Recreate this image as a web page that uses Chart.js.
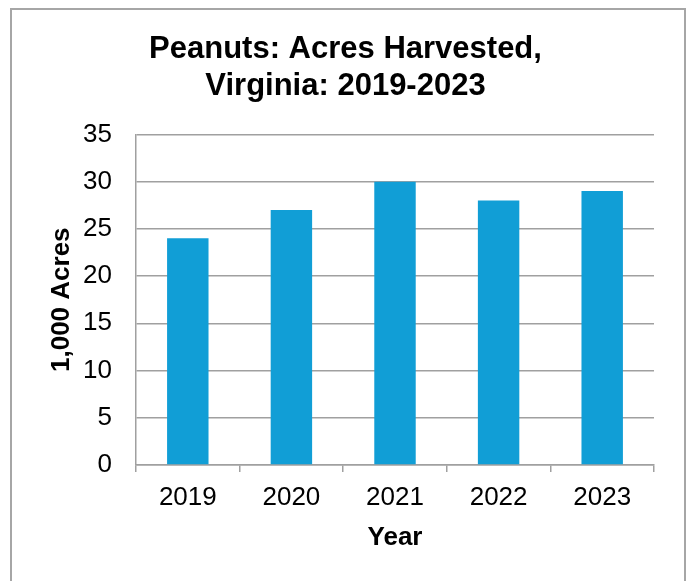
<!DOCTYPE html>
<html>
<head>
<meta charset="utf-8">
<script src="https://cdn.jsdelivr.net/npm/chart.js@4"></script>
<style>
    html, body { margin: 0; padding: 0; background: #fff; }
    body { width: 691px; height: 581px; position: relative; overflow: hidden; }
    .frame {
        position: absolute; left: 10px; top: 8px; width: 672px; height: 590px;
        border: 2px solid #a6a6a6;
    }
    #chart { position: absolute; left: 0; top: 0; }
</style>
</head>
<body>
<div class="frame"></div>
<canvas id="chart" width="691" height="581"></canvas>
<script>
const years = ['2019', '2020', '2021', '2022', '2023'];
const acres = [24, 27, 30, 28, 29];
const titleLines = ['Peanuts: Acres Harvested,', 'Virginia: 2019-2023'];

const FONT = "'Liberation Sans', Arial, sans-serif";
const GREY = '#a0a0a0';

document.addEventListener('DOMContentLoaded', () => {
    const ctx = document.getElementById('chart');
    new Chart(ctx, {
        type: 'bar',
        data: {
            labels: years,
            datasets: [{
                label: '1,000 Acres',
                data: acres,
                backgroundColor: '#119ed6',
                borderWidth: 0,
                categoryPercentage: 1,
                barPercentage: 0.4
            }]
        },
        options: {
            responsive: false,
            animation: false,
            layout: { padding: 0 },
            plugins: {
                legend: { display: false },
                tooltip: { enabled: false },
                title: {
                    display: true,
                    text: titleLines,
                    color: '#000',
                    font: { family: FONT, size: 31, weight: 'bold', lineHeight: 1.2 },
                    padding: { top: 31, bottom: 29 }
                }
            },
            scales: {
                x: {
                    grid: { drawOnChartArea: false, drawTicks: true, tickLength: 7, color: GREY, lineWidth: 1.5 },
                    border: { color: GREY, width: 1.5 },
                    ticks: { color: '#000', font: { family: FONT, size: 26 }, padding: 10, maxRotation: 0 },
                    title: {
                        display: true, text: 'Year', color: '#000',
                        font: { family: FONT, size: 26, weight: 'bold', lineHeight: 1.2 },
                        padding: { top: 0, bottom: 28 }
                    },
                    afterFit: (scale) => { scale.height = 116; }
                },
                y: {
                    min: 0, max: 35,
                    grid: { drawTicks: false, color: GREY, lineWidth: 1.5 },
                    border: { color: GREY, width: 1.5 },
                    ticks: { stepSize: 5, color: '#000', font: { family: FONT, size: 26 }, padding: 24 },
                    title: {
                        display: true, text: '1,000 Acres', color: '#000',
                        font: { family: FONT, size: 26, weight: 'bold', lineHeight: 1.2 },
                        padding: { top: 46, bottom: 0 }
                    },
                    afterFit: (scale) => { scale.width = 136; }
                },
                // empty right margin so the title stays centred on the page
                yRight: {
                    position: 'right',
                    grid: { display: false },
                    border: { display: false },
                    ticks: { display: false },
                    afterFit: (scale) => { scale.width = 37; }
                }
            }
        }
    });
});
</script>
</body>
</html>
